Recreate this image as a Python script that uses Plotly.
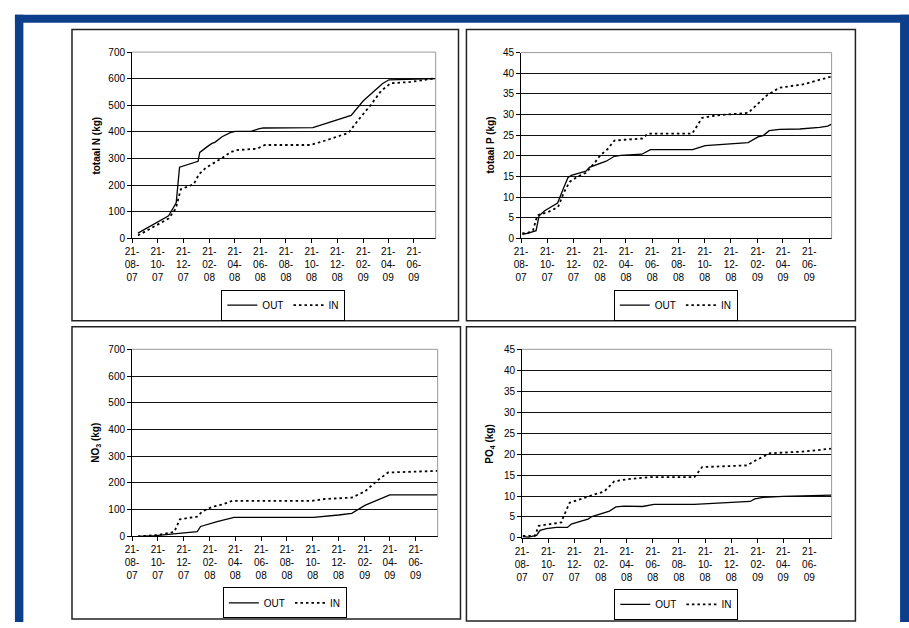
import plotly.graph_objects as go

FIG_W, FIG_H = 909, 628

# ---------------- data ----------------
tick_dates = ["2007-08-21", "2007-10-21", "2007-12-21", "2008-02-21", "2008-04-21", "2008-06-21",
              "2008-08-21", "2008-10-21", "2008-12-21", "2009-02-21", "2009-04-21", "2009-06-21"]
tick_labels = ["21-<br>08-<br>07", "21-<br>10-<br>07", "21-<br>12-<br>07", "21-<br>02-<br>08",
               "21-<br>04-<br>08", "21-<br>06-<br>08", "21-<br>08-<br>08", "21-<br>10-<br>08",
               "21-<br>12-<br>08", "21-<br>02-<br>09", "21-<br>04-<br>09", "21-<br>06-<br>09"]
x_range = ["2007-08-21", "2009-08-12"]

# totaal N
n_out_dates = ["2007-09-04", "2007-11-16", "2007-12-04", "2007-12-12", "2008-01-25", "2008-01-29",
               "2008-02-16", "2008-02-27", "2008-03-05", "2008-03-22", "2008-04-13", "2008-04-23",
               "2008-05-30", "2008-06-17", "2008-06-28", "2008-10-24", "2009-01-23", "2009-02-21",
               "2009-03-19", "2009-04-08", "2009-04-23", "2009-08-12"]
n_out = [20, 85, 134, 268, 290, 323, 345, 357, 361, 382, 399, 402, 402, 412, 415, 416, 462, 517,
         554, 582, 596, 600]
n_in_dates = ["2007-09-04", "2007-11-16", "2007-12-03", "2007-12-11", "2007-12-15", "2008-01-15",
              "2008-01-27", "2008-02-12", "2008-03-06", "2008-03-22", "2008-04-11", "2008-04-26",
              "2008-06-13", "2008-07-02", "2008-10-17", "2008-11-21", "2009-01-17", "2009-02-08",
              "2009-03-11", "2009-04-04", "2009-04-27", "2009-06-14", "2009-08-12"]
n_in = [11, 75, 112, 167, 185, 204, 241, 265, 286, 302, 324, 332, 337, 351, 351, 367, 397, 443,
        502, 554, 583, 588, 602]

# totaal P
p_out_dates = ["2007-08-24", "2007-09-07", "2007-09-25", "2007-10-02", "2007-10-15", "2007-11-14",
               "2007-11-27", "2007-12-08", "2007-12-16", "2008-01-19", "2008-01-27", "2008-02-08",
               "2008-02-22", "2008-03-06", "2008-03-25", "2008-04-09", "2008-05-28", "2008-06-17",
               "2008-09-23", "2008-10-22", "2009-01-30", "2009-02-09", "2009-02-22", "2009-03-06",
               "2009-03-20", "2009-04-13", "2009-05-30", "2009-07-15", "2009-08-03", "2009-08-12"]
p_out = [1.0, 1.3, 1.9, 5.5, 6.7, 8.6, 12.0, 14.7, 15.3, 16.3, 17.2, 17.7, 18.3, 18.7, 19.9, 20.1,
         20.4, 21.5, 21.5, 22.5, 23.2, 23.9, 24.6, 24.9, 26.1, 26.4, 26.5, 26.9, 27.2, 27.7]
p_in_dates = ["2007-08-24", "2007-09-03", "2007-09-18", "2007-09-28", "2007-10-23", "2007-11-15",
              "2007-11-29", "2007-12-12", "2007-12-31", "2008-01-19", "2008-02-08", "2008-02-22",
              "2008-03-09", "2008-03-25", "2008-04-17", "2008-05-29", "2008-06-11", "2008-09-22",
              "2008-10-15", "2008-11-18", "2009-01-30", "2009-02-22", "2009-03-15", "2009-04-13",
              "2009-06-06", "2009-08-12"]
p_in = [1.3, 1.2, 2.0, 5.6, 6.4, 7.6, 11.2, 13.7, 15.0, 15.9, 18.3, 20.2, 21.6, 23.7, 23.9, 24.2,
        25.4, 25.4, 29.2, 29.8, 30.4, 32.7, 34.7, 36.5, 37.3, 39.2]

# NO3
no3_out_dates = ["2007-09-04", "2007-10-16", "2007-12-10", "2008-01-22", "2008-01-30", "2008-02-27",
                 "2008-03-09", "2008-04-18", "2008-10-23", "2008-12-21", "2009-01-21", "2009-02-21",
                 "2009-03-21", "2009-04-21", "2009-08-12"]
no3_out = [0, 2.5, 11, 18, 37, 52, 55, 71, 71, 80, 86, 116, 135, 155, 155]
no3_in_dates = ["2007-09-04", "2007-10-20", "2007-11-29", "2007-12-12", "2008-01-22", "2008-02-03",
                "2008-02-27", "2008-03-21", "2008-04-14", "2008-10-19", "2008-11-19", "2009-01-21",
                "2009-02-21", "2009-03-25", "2009-04-17", "2009-06-03", "2009-08-12"]
no3_in = [0, 5, 17, 64, 74, 93, 111, 119, 133, 133, 140, 145, 168, 212, 239, 241, 245]

# PO4
po4_out_dates = ["2007-08-23", "2007-09-05", "2007-09-24", "2007-10-02", "2007-10-17", "2007-11-09",
                 "2007-12-05", "2007-12-14", "2008-01-06", "2008-01-22", "2008-01-31", "2008-02-22",
                 "2008-03-12", "2008-03-27", "2008-04-16", "2008-05-28", "2008-06-24", "2008-09-26",
                 "2008-10-27", "2009-02-03", "2009-02-14", "2009-03-06", "2009-04-21", "2009-08-12"]
po4_out = [0.3, 0.2, 0.6, 1.8, 2.2, 2.5, 2.5, 3.3, 4.0, 4.5, 5.1, 5.8, 6.4, 7.4, 7.6, 7.5, 8.0, 8.0,
           8.2, 8.7, 9.3, 9.7, 9.9, 10.2]
po4_in_dates = ["2007-08-23", "2007-09-20", "2007-09-29", "2007-11-21", "2007-11-25", "2007-12-10",
                "2008-01-29", "2008-02-29", "2008-03-23", "2008-04-23", "2008-06-16", "2008-09-26",
                "2008-10-14", "2008-11-10", "2009-01-26", "2009-02-18", "2009-03-21", "2009-06-06",
                "2009-08-12"]
po4_in = [0.5, 0.5, 2.9, 3.7, 4.9, 8.4, 10.1, 11.1, 13.5, 14.0, 14.5, 14.5, 16.9, 17.0, 17.3, 18.6,
          20.2, 20.6, 21.3]

series_names = ["OUT", "IN"]
y_titles = ["<b>totaal N (kg)</b>", "<b>totaal P (kg)</b>", "<b>NO<sub>3</sub> (kg)</b>",
            "<b>PO<sub>4</sub> (kg)</b>"]
y_ranges = [(0, 700, 100), (0, 45, 5), (0, 700, 100), (0, 45, 5)]

# ---------------- layout helpers ----------------
FONT = "Liberation Sans, Arial, sans-serif"


def px_x(v):
    return v / FIG_W


def px_y(v):
    return 1 - v / FIG_H


# plot areas in pixels: (left, right, top, bottom)
plot_px = [(126, 432, 47, 237), (518, 831, 47.5, 237), (126, 434, 350, 540.7), (519, 831, 350, 542.3)]
panel_px = [(65.5, 455, 24, 321), (463, 855, 24, 321), (65.5, 457, 327, 625), (463, 855, 327, 627)]
legend_px = [(278.5, 305), (674, 305), (280, 608.5), (674.5, 610)]
ytitle_px = [(90, 142), (487, 142), (90, 445), (487, 447)]

data_sets = [
    (n_out_dates, n_out, n_in_dates, n_in),
    (p_out_dates, p_out, p_in_dates, p_in),
    (no3_out_dates, no3_out, no3_in_dates, no3_in),
    (po4_out_dates, po4_out, po4_in_dates, po4_in),
]

fig = go.Figure()
layout = dict(
    width=FIG_W, height=FIG_H,
    margin=dict(l=0, r=0, t=0, b=0),
    paper_bgcolor="white", plot_bgcolor="white",
    font=dict(family=FONT, size=10, color="black"),
    shapes=[], annotations=[],
)

blue = "#0b3f8c"
# blue frame
layout["shapes"] += [
    dict(type="rect", xref="paper", yref="paper", x0=px_x(8), x1=1, y0=px_y(17), y1=px_y(9),
         fillcolor=blue, line=dict(width=0), layer="below"),
    dict(type="rect", xref="paper", yref="paper", x0=px_x(8), x1=px_x(16.5), y0=0, y1=px_y(9),
         fillcolor=blue, line=dict(width=0), layer="below"),
    dict(type="rect", xref="paper", yref="paper", x0=px_x(900), x1=1, y0=0, y1=px_y(9),
         fillcolor=blue, line=dict(width=0), layer="below"),
]

for i in range(4):
    k = "" if i == 0 else str(i + 1)
    l, r, t, b = plot_px[i]
    y0, y1, dy = y_ranges[i]
    od, ov, idt, iv = data_sets[i]
    leg = "legend" if i == 0 else "legend" + k
    fig.add_trace(go.Scatter(x=od, y=ov, mode="lines", name=series_names[0],
                             line=dict(color="black", width=1.3),
                             xaxis="x" + k, yaxis="y" + k, legend=leg))
    fig.add_trace(go.Scatter(x=idt, y=iv, mode="lines", name=series_names[1],
                             line=dict(color="black", width=1.8, dash="2.5px,3px"),
                             xaxis="x" + k, yaxis="y" + k, legend=leg))
    layout["xaxis" + k] = dict(
        domain=[px_x(l), px_x(r)], anchor="y" + k, type="date", range=x_range,
        tickmode="array", tickvals=tick_dates, ticktext=tick_labels, tickangle=0,
        ticks="outside", ticklen=4, tickcolor="black", tickwidth=1,
        showline=True, linecolor="black", linewidth=1, showgrid=False, zeroline=False,
        tickfont=dict(family=FONT, size=10, color="black"), fixedrange=True,
    )
    layout["yaxis" + k] = dict(
        domain=[px_y(b), px_y(t)], anchor="x" + k, range=[y0, y1], dtick=dy, tick0=0,
        ticks="outside", ticklen=4, tickcolor="black", tickwidth=1,
        showline=True, linecolor="black", linewidth=1,
        showgrid=True, gridcolor="#111111", gridwidth=1, zeroline=False,
        tickfont=dict(family=FONT, size=10, color="black"), fixedrange=True,
    )
    # gray plot-area border (top and right)
    layout["shapes"] += [
        dict(type="line", xref="x" + k + " domain", yref="y" + k + " domain", x0=0, x1=1, y0=1, y1=1,
             line=dict(color="#9a9a9a", width=1), layer="above"),
        dict(type="line", xref="x" + k + " domain", yref="y" + k + " domain", x0=1, x1=1, y0=0, y1=1,
             line=dict(color="#9a9a9a", width=1), layer="above"),
    ]
    # panel box
    pl, pr, pt, pb = panel_px[i]
    layout["shapes"].append(dict(type="rect", xref="paper", yref="paper",
                                 x0=px_x(pl), x1=px_x(pr), y0=px_y(pb), y1=px_y(pt),
                                 line=dict(color="#222222", width=1.5), layer="below"))
    # y title
    tx, ty = ytitle_px[i]
    layout["annotations"].append(dict(text=y_titles[i], xref="paper", yref="paper",
                                      x=px_x(tx), y=px_y(ty), textangle=-90, showarrow=False,
                                      xanchor="center", yanchor="middle",
                                      font=dict(family=FONT, size=10, color="black")))
    lx, ly = legend_px[i]
    layout[leg] = dict(orientation="h", x=px_x(lx), y=px_y(ly), xanchor="center", yanchor="middle",
                       xref="paper", yref="paper",
                       bgcolor="white", bordercolor="black", borderwidth=1,
                       font=dict(family=FONT, size=10, color="black"),
                       itemwidth=30, tracegroupgap=0)

fig.update_layout(**layout)
fig.update_layout(showlegend=True)
fig.write_html(
    "out.html",
    config={"displayModeBar": False},
    post_script="document.body.style.margin='0';document.body.style.padding='0';"
                "document.body.style.overflow='hidden';"
                "document.documentElement.style.overflow='hidden';",
)
